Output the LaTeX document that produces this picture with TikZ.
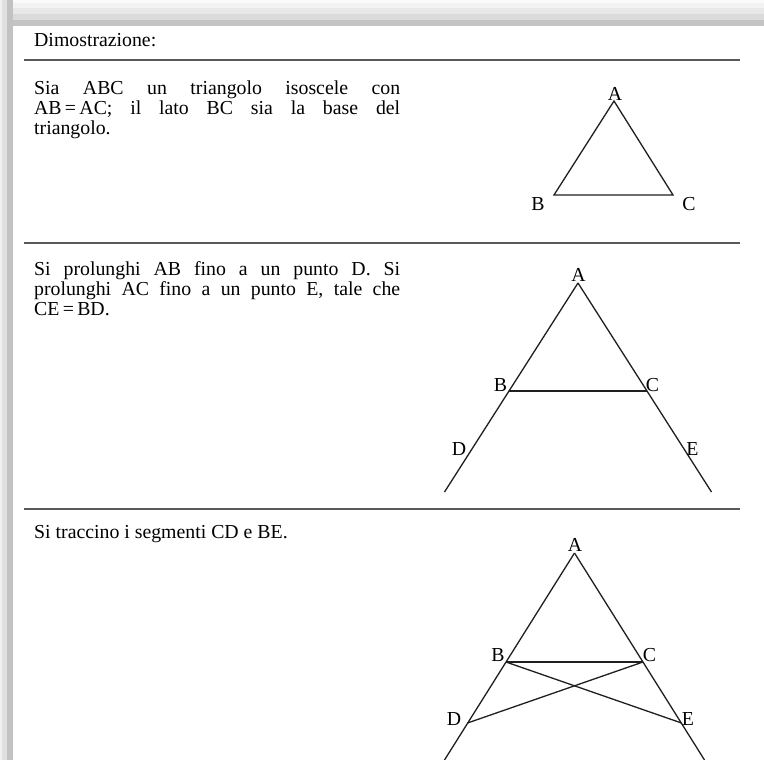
\documentclass[tikz,border=0pt]{standalone}
\usepackage{fontspec}
\setmainfont{Liberation Serif}
\tolerance=9999
\hyphenpenalty=10000
\tikzset{
  rulebar/.style={line width=2pt, draw=black!65},
  edge/.style={line width=1.3pt, draw=black!88},
  lbl/.style={inner sep=0pt},
  txt/.style={inner sep=0pt, text width=366pt, align=justify, anchor=base west},
}
\begin{document}
\begin{tikzpicture}[x=1pt, y=-1pt, font=\fontsize{19.8}{20}\selectfont]
    \useasboundingbox (0,0) rectangle (764,760);
    % ombra della pagina
    \foreach \y/\c in {0/98, 3/95, 8/91, 14/86, 20/77}
        \fill[black!\the\numexpr100-\c\relax] (0,\y) rectangle (764,26);
    \foreach \x/\c in {0/94, 2/88, 7/76}
        \fill[black!\the\numexpr100-\c\relax] (\x,0) rectangle (13,760);
    \fill[white] (13,26) rectangle (764,760);

    \coordinate (r1l) at (24,60.5);  \coordinate (r1r) at (740,60.5);
    \coordinate (r2l) at (24,242.5); \coordinate (r2r) at (740,242.5);
    \coordinate (r3l) at (24,509);   \coordinate (r3r) at (740,509);
    \draw[rulebar] (r1l)--(r1r);
    \draw[rulebar] (r2l)--(r2r);
    \draw[rulebar] (r3l)--(r3r);

    \node[inner sep=0pt, anchor=base west] (titolo) at (34,46.5) {Dimostrazione:};
    \node[txt] (passo1) at (34,95) {Sia ABC un triangolo isoscele con\linebreak
        AB\,=\,AC; il lato BC sia la base del\linebreak triangolo.};
    \node[txt] (passo2) at (34,275.5) {Si prolunghi AB fino a un punto D. Si\linebreak
        prolunghi AC fino a un punto E, tale che\linebreak CE\,=\,BD.};
    \node[txt] (passo3) at (34,538.5) {Si traccino i segmenti CD e BE.};

    \coordinate (A1) at (614,101);
    \coordinate (B1) at (554,195);
    \coordinate (C1) at (673,195);
    \draw[edge] (A1)--(B1)--(C1)--cycle;

    \coordinate (A2) at (578,283);
    \coordinate (B2) at (509,391);
    \coordinate (C2) at (647,391);
    \coordinate (L2) at (444.5,492);
    \coordinate (R2) at (711.5,492);
    \draw[edge] (A2)--(L2);
    \draw[edge] (A2)--(R2);
    \draw[edge] (B2)--(C2);

    \coordinate (A3) at (574.5,553);
    \coordinate (B3) at (506,662);
    \coordinate (C3) at (643,662);
    \coordinate (D3) at (467.5,723);
    \coordinate (E3) at (681.5,723);
    \coordinate (L3) at (444.5,760);
    \coordinate (R3) at (704.5,760);
    \draw[edge] (A3)--(L3);
    \draw[edge] (A3)--(R3);
    \draw[edge] (B3)--(C3);
    \draw[edge] (B3)--(E3);
    \draw[edge] (C3)--(D3);

    \foreach \n/\x/\y/\t in {la1/615/94/A, lb1/538/204.5/B, lc1/689/204.5/C,
                             la2/578.5/275/A, lb2/500.5/385.5/B, lc2/652.5/385.5/C,
                             ld2/459/449/D, le2/692.5/449.5/E,
                             la3/575/545/A, lb3/498/655/B, lc3/649.5/655/C,
                             ld3/454/719.5/D, le3/688/719.5/E} {
        \node[lbl] (\n) at (\x,\y) {\t};
    }
\end{tikzpicture}
\end{document}
